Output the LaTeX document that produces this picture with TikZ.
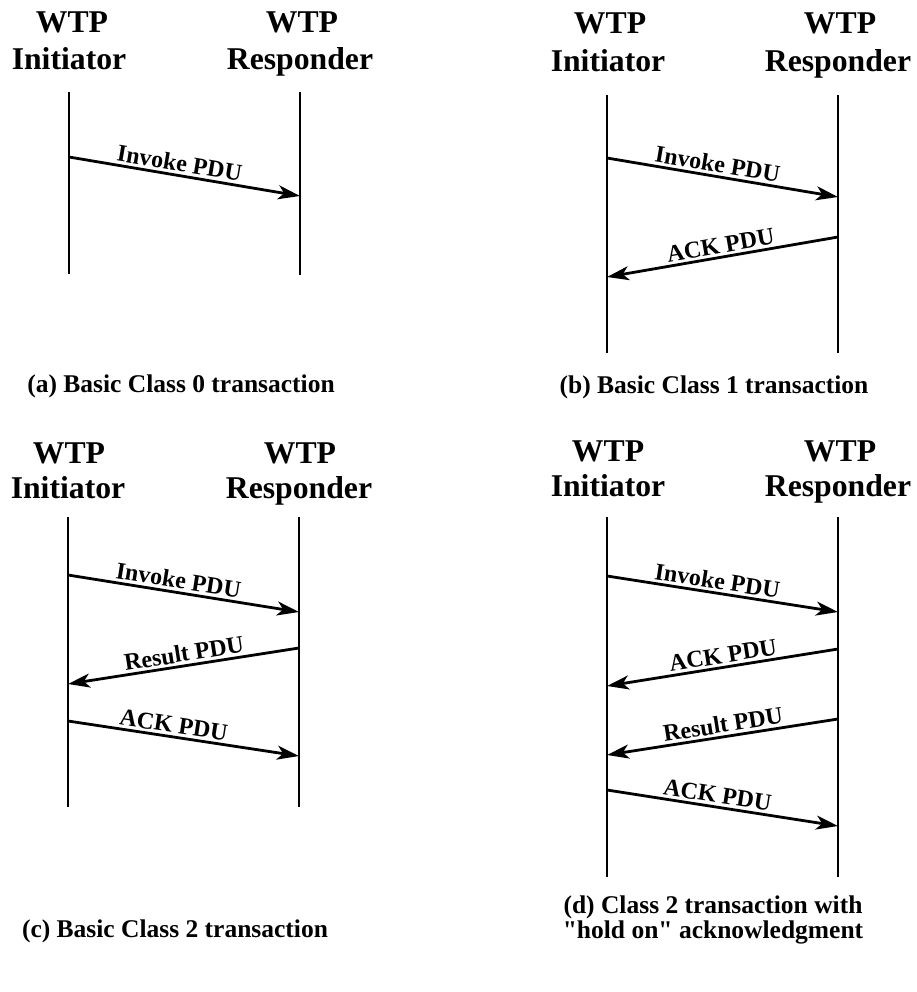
\documentclass[tikz,border=0pt]{standalone}
\usepackage{fontspec}
\setmainfont{Liberation Serif}[Ligatures=TeXOff]
\usetikzlibrary{arrows.meta}
\begin{document}
\begin{tikzpicture}[x=1pt,y=-1pt,
  life/.style={line width=1.3pt},
  msg/.style={line width=2.8pt,-{Stealth[length=22pt,width=14pt,inset=6pt]}},
  lbl/.style={font=\fontsize{24}{26}\selectfont\bfseries,sloped,above,inner sep=2.5pt,pos=0.49},
  hdr/.style={font=\fontsize{31.7}{34}\selectfont\bfseries,anchor=base,inner sep=0pt},
  captxt/.style={font=\fontsize{25.5}{27}\selectfont\bfseries,anchor=base,inner sep=0pt}]
\useasboundingbox (0,0) rectangle (916,992);
% ---------- (a)
\node[hdr] (aw1) at (72,33) {WTP};
\node[hdr] (ai) at (69,70) {Initiator};
\node[hdr] (aw2) at (302,33) {WTP};
\node[hdr] (ar) at (300,70) {Responder};
\coordinate (aLt) at (69,92); \coordinate (aLb) at (69,274);
\coordinate (aRt) at (300,92); \coordinate (aRb) at (300,275);
\draw[life] (aLt) -- (aLb);
\draw[life] (aRt) -- (aRb);
\coordinate (a1s) at (69,157); \coordinate (a1e) at (300,196);
\draw[msg] (a1s) -- node[lbl,pos=0.47]{Invoke PDU} (a1e);
\node[captxt] (acap) at (181,392) {(a) Basic Class 0 transaction};
% ---------- (b)
\node[hdr] (bw1) at (610,34) {WTP};
\node[hdr] (bi) at (608,72) {Initiator};
\node[hdr] (bw2) at (840,34) {WTP};
\node[hdr] (br) at (838,72) {Responder};
\coordinate (bLt) at (607,95); \coordinate (bLb) at (607,353);
\coordinate (bRt) at (838,95); \coordinate (bRb) at (838,353);
\draw[life] (bLt) -- (bLb);
\draw[life] (bRt) -- (bRb);
\coordinate (b1s) at (607,158); \coordinate (b1e) at (838,197);
\draw[msg] (b1s) -- node[lbl,pos=0.47]{Invoke PDU} (b1e);
\coordinate (b2s) at (838,237); \coordinate (b2e) at (607,277);
\draw[msg] (b2s) -- node[lbl,pos=0.5]{ACK PDU} (b2e);
\node[captxt] (bcap) at (714,393) {(b) Basic Class 1 transaction};
% ---------- (c)
\node[hdr] (cw1) at (69,463) {WTP};
\node[hdr] (ci) at (68,498) {Initiator};
\node[hdr] (cw2) at (300,463) {WTP};
\node[hdr] (cr) at (299,498) {Responder};
\coordinate (cLt) at (68,517); \coordinate (cLb) at (68,807);
\coordinate (cRt) at (299,517); \coordinate (cRb) at (299,807);
\draw[life] (cLt) -- (cLb);
\draw[life] (cRt) -- (cRb);
\coordinate (c1s) at (68,575); \coordinate (c1e) at (299,612);
\draw[msg] (c1s) -- node[lbl,pos=0.47]{Invoke PDU} (c1e);
\coordinate (c2s) at (299,648); \coordinate (c2e) at (68,684);
\draw[msg] (c2s) -- node[lbl]{Result PDU} (c2e);
\coordinate (c3s) at (68,721); \coordinate (c3e) at (299,756);
\draw[msg] (c3s) -- node[lbl,pos=0.45]{ACK PDU} (c3e);
\node[captxt] (ccap) at (175,937) {(c) Basic Class 2 transaction};
% ---------- (d)
\node[hdr] (dw1) at (608,461) {WTP};
\node[hdr] (di) at (608,496) {Initiator};
\node[hdr] (dw2) at (840,461) {WTP};
\node[hdr] (dr) at (838,496) {Responder};
\coordinate (dLt) at (607,517); \coordinate (dLb) at (607,877);
\coordinate (dRt) at (838,517); \coordinate (dRb) at (838,877);
\draw[life] (dLt) -- (dLb);
\draw[life] (dRt) -- (dRb);
\coordinate (d1s) at (607,576); \coordinate (d1e) at (838,612);
\draw[msg] (d1s) -- node[lbl,pos=0.47]{Invoke PDU} (d1e);
\coordinate (d2s) at (838,649); \coordinate (d2e) at (607,686);
\draw[msg] (d2s) -- node[lbl]{ACK PDU} (d2e);
\coordinate (d3s) at (838,719); \coordinate (d3e) at (607,755);
\draw[msg] (d3s) -- node[lbl]{Result PDU} (d3e);
\coordinate (d4s) at (607,790); \coordinate (d4e) at (838,826);
\draw[msg] (d4s) -- node[lbl,pos=0.47]{ACK PDU} (d4e);
\node[captxt] (dcap1) at (713,913) {(d) Class 2 transaction with};
\node[captxt] (dcap2) at (713,938) {"hold on" acknowledgment};
\end{tikzpicture}
\end{document}
